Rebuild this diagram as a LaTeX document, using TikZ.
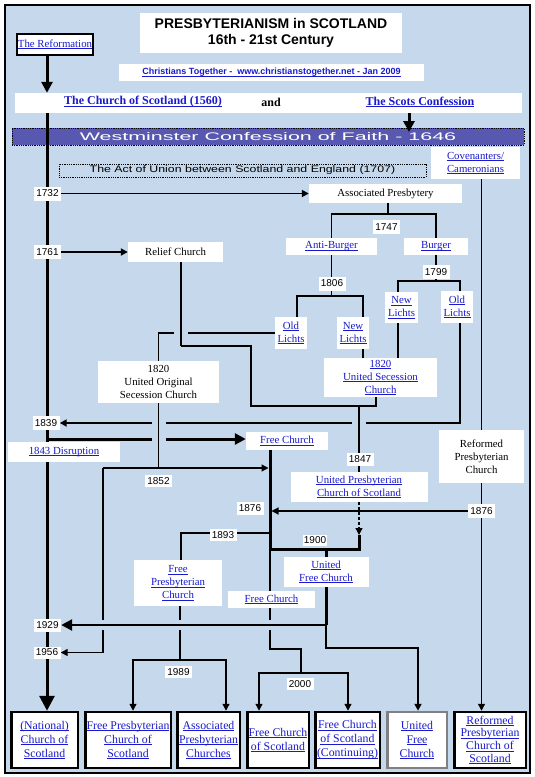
\documentclass[tikz,border=0pt]{standalone}
\usepackage{fontspec}
\setmainfont{Liberation Serif}
\setsansfont{Liberation Sans}
\usepackage{graphicx}
\usetikzlibrary{arrows.meta}

\definecolor{bgblue}{RGB}{198,217,236}
\definecolor{wcblue}{RGB}{88,88,176}
\definecolor{lkblue}{RGB}{25,25,205}

\newcommand{\lnk}[1]{{\color{lkblue}\setbox0\hbox{#1}\rlap{\rule[-1.6pt]{\wd0}{0.7pt}}\box0}}

\pgfdeclarelayer{back}
\pgfdeclarelayer{lines}
\pgfsetlayers{back,lines,main}

\tikzset{
  lbl/.style={fill=white, inner sep=0pt, align=center, font=\fontsize{10.8}{13}\selectfont},
  yr/.style={fill=white, inner sep=0pt, minimum width=27pt, minimum height=14pt, font=\sffamily\fontsize{10}{10}\selectfont},
  church/.style={fill=white, draw=black, line width=2.5pt, inner sep=0pt, align=center, minimum height=56pt, font=\fontsize{11.8}{14}\selectfont},
  ln/.style={line width=1.3pt},
  medln/.style={line width=1.8pt},
  thk/.style={line width=3pt},
  arr/.style={-{Triangle[length=7pt,width=7pt]}},
  arrm/.style={-{Triangle[length=11pt,width=11pt]}},
  arrl/.style={-{Triangle[length=15pt,width=15pt]}},
  crossgap/.style={preaction={draw=bgblue, line width=#1, -}},
  crossgap/.default=14pt,
}

\begin{document}
\begin{tikzpicture}[x=1pt,y=-1pt]
\useasboundingbox (0,0) rectangle (535,777);

\begin{pgfonlayer}{back}
\draw[line width=2.5pt, fill=bgblue] (5,5) rectangle (530,773);
\node[fill=white, minimum width=507pt, minimum height=20pt, inner sep=0pt] (band) at (268.5,103) {};
\node[fill=wcblue, draw, densely dotted, line width=0.8pt, minimum width=512pt, minimum height=17pt, inner sep=0pt,
  text=white, font=\sffamily\fontsize{11}{11}\selectfont] (wcf) at (268,136.5)
  {\scalebox{1.95}[1]{Westminster Confession of Faith - 1646}};
\end{pgfonlayer}

% heading
\node[lbl, minimum width=262pt, minimum height=40pt, font=\sffamily\bfseries\fontsize{14}{16}\selectfont] (title) at (271,33)
  {PRESBYTERIANISM in SCOTLAND\\16th - 21st Century};
\node[lbl, draw, line width=1.2pt, minimum width=76pt, minimum height=21pt] (ref) at (55,44.5) {\lnk{The Reformation}};
\node[lbl, minimum width=305pt, minimum height=17pt, font=\sffamily\bfseries\fontsize{9}{10}\selectfont] (sub) at (271.5,72.5)
  {\lnk{Christians Together -\ \ www.christianstogether.net - Jan 2009}};
\node[inner sep=0pt, font=\bfseries\fontsize{12}{14}\selectfont] (cos) at (143,102) {\lnk{The Church of Scotland (1560)}};
\node[inner sep=0pt, font=\bfseries\fontsize{12}{14}\selectfont] (and) at (271,102) {and};
\node[inner sep=0pt, font=\bfseries\fontsize{12}{14}\selectfont] (scots) at (420,102) {\lnk{The Scots Confession}};
\node[draw, densely dotted, line width=0.8pt, minimum width=367pt, minimum height=13pt, inner sep=0pt,
  font=\sffamily\fontsize{9.5}{10}\selectfont] (aou) at (242.5,170.5)
  {\scalebox{1.3}[1]{The Act of Union between Scotland and England (1707)}};
\node[lbl, minimum width=89pt, minimum height=32pt] (cov) at (475.5,163) {\lnk{Covenanters/}\\\lnk{Cameronians}};

% secessions
\node[yr] (y1732) at (47.5,193.5) {1732};
\node[lbl, minimum width=153pt, minimum height=19pt] (ap) at (385.5,193.5) {Associated Presbytery};
\node[yr] (y1747) at (386.5,227) {1747};
\node[lbl, minimum width=91pt, minimum height=17pt] (ab) at (331.5,246.5) {\lnk{Anti-Burger}};
\node[lbl, minimum width=64pt, minimum height=17pt] (bg) at (436,246.5) {\lnk{Burger}};
\node[yr] (y1761) at (47.5,252) {1761};
\node[lbl, minimum width=95pt, minimum height=20pt] (rc) at (175.5,252) {Relief Church};
\node[yr] (y1806) at (332,283.5) {1806};
\node[yr] (y1799) at (436,272) {1799};
\node[lbl, minimum width=32pt, minimum height=32pt] (ol1) at (291,333) {\lnk{Old}\\\lnk{Lichts}};
\node[lbl, minimum width=32pt, minimum height=32pt] (nl1) at (353,333) {\lnk{New}\\\lnk{Lichts}};
\node[lbl, minimum width=33pt, minimum height=31pt] (nl2) at (401.5,307.5) {\lnk{New}\\\lnk{Lichts}};
\node[lbl, minimum width=32pt, minimum height=32pt] (ol2) at (457,307) {\lnk{Old}\\\lnk{Lichts}};
\node[lbl, minimum width=121pt, minimum height=42pt] (uosc) at (158.5,382) {1820\\United Original\\Secession Church};
\node[lbl, minimum width=113pt, minimum height=39pt] (usc) at (380.5,377.5) {\lnk{1820}\\\lnk{United Secession}\\\lnk{Church}};

% disruption and unions
\node[yr] (y1839) at (46,423) {1839};
\node[lbl, minimum width=82pt, minimum height=18pt] (fc1) at (287,441) {\lnk{Free Church}};
\node[lbl, minimum width=112pt, minimum height=20pt] (dis) at (64,452) {\lnk{1843 Disruption}};
\node[lbl, minimum width=85pt, minimum height=53pt] (rpc) at (481.5,456.5) {Reformed\\Presbyterian\\Church};
\node[yr, minimum height=13pt] (y1847) at (360,459.5) {1847};
\node[lbl, minimum width=137pt, minimum height=30pt] (upc) at (359,487) {\lnk{United Presbyterian}\\\lnk{Church of Scotland}};
\node[yr, minimum height=12pt] (y1852) at (158.5,481) {1852};
\node[yr, minimum height=13pt] (y1876a) at (250,508.5) {1876};
\node[yr] (y1876b) at (481.5,511) {1876};
\node[yr, minimum height=12pt] (y1893) at (223,535) {1893};
\node[yr, minimum width=24pt, minimum height=11pt] (y1900) at (315,540) {1900};
\node[lbl, minimum width=88pt, minimum height=46pt] (fpc) at (178,583) {\lnk{Free}\\\lnk{Presbyterian}\\\lnk{Church}};
\node[lbl, minimum width=85pt, minimum height=30pt] (ufc) at (326,572) {\lnk{United}\\\lnk{Free Church}};
\node[lbl, minimum width=87pt, minimum height=17pt] (fc2) at (271.5,599.5) {\lnk{Free Church}};
\node[yr, minimum height=13pt] (y1929) at (47.5,625) {1929};
\node[yr, minimum height=12pt] (y1956) at (47,652.5) {1956};
\node[yr, minimum height=12pt] (y1989) at (178.5,672) {1989};
\node[yr, minimum height=12pt] (y2000) at (300,684) {2000};

% churches today
\node[church, minimum width=66.5pt] (b1) at (44.5,740) {\lnk{(National)}\\\lnk{Church of}\\\lnk{Scotland}};
\node[church, minimum width=85.5pt] (b2) at (128,740) {\lnk{Free Presbyterian}\\\lnk{Church of}\\\lnk{Scotland}};
\node[church, minimum width=62.5pt] (b3) at (208.5,740) {\lnk{Associated}\\\lnk{Presbyterian}\\\lnk{Churches}};
\node[church, minimum width=61.5pt] (b4) at (278,740) {\lnk{Free Church}\\\lnk{of Scotland}};
\node[church, minimum width=64.5pt] (b5) at (347.5,740) {\lnk{Free Church}\\\lnk{of Scotland}\\\lnk{(Continuing)}};
\node[church, minimum width=59.5pt, draw=gray] (b6) at (417,740) {\lnk{United}\\\lnk{Free}\\\lnk{Church}};
\node[church, minimum width=71.5pt, font=\fontsize{11.8}{12.8}\selectfont] (b7) at (490,740) {\lnk{Reformed}\\\lnk{Presbyterian}\\\lnk{Church of}\\\lnk{Scotland}};

% bends of the connectors
\coordinate (top) at (47,113);
\coordinate (sc) at (409,113);
\coordinate (sct) at (409,132);
\coordinate (k1747) at (388,214);
\coordinate (k1806) at (331.5,296);
\coordinate (xol1) at (297,0);
\coordinate (xnl1) at (363,0);
\coordinate (k1799) at (436,281);
\coordinate (xnl2) at (398,0);
\coordinate (xol2) at (460,0);
\coordinate (rc1) at (181,346);
\coordinate (rc2) at (251,406);
\coordinate (xus) at (376,0);
\coordinate (k1847) at (359,406);
\coordinate (k1843) at (47,439);
\coordinate (k1852) at (158.5,468);
\coordinate (k1852l) at (103,468);
\coordinate (f1900) at (270,549);
\coordinate (d1900) at (359,535);
\coordinate (k1893) at (181,533);
\coordinate (u1929) at (326,625);
\coordinate (k6) at (418,648);
\coordinate (k1989) at (180,660);
\coordinate (x1989a) at (133,0);
\coordinate (x1989b) at (226,0);
\coordinate (k2000t) at (301,649);
\coordinate (k2000) at (301,673);
\coordinate (x2000a) at (259,0);
\coordinate (x2000b) at (348,0);

\begin{pgfonlayer}{lines}
\draw[thk, arrm] (ref.south -| top) -- (band.north -| top);
\draw[thk, arrl] (top) -- (top |- b1.north);
\draw[thk, arrm] (sc) -- (sct);

\draw[medln, arr] (y1732) -- (ap);
\draw[medln, arr] (y1761) -- (rc);
\draw[ln] (ap.south -| k1747) -- (k1747);
\draw[ln] (ab.north) |- (k1747) -| (bg.north);
\draw[ln] (ab.south) -- (k1806);
\draw[ln] (xol1 |- ol1.north) |- (k1806) -| (xnl1 |- nl1.north);
\draw[ln] (xnl1 |- nl1.south) -- (xnl1 |- usc.north);
\draw[ln] (bg.south) -- (k1799);
\draw[ln] (xnl2 |- nl2.north) |- (k1799) -| (xol2 |- ol2.north);
\draw[ln] (xnl2 |- nl2.south) -- (xnl2 |- usc.north);
\draw[ln] (ol1.west) -| (uosc.north);

\draw[medln, arr] (xol2 |- ol2.south) |- (y1839);
\draw[thk, arrm] (k1843) -- (k1843 -| fc1.west);

% crossings
\draw[ln, crossgap] (rc1 |- rc.south) -- (rc1);
\draw[ln, crossgap] (uosc.south) -- (k1852);
\draw[ln, crossgap] (k1847) -- (upc.north);
\draw[ln] (rc1) -| (rc2) -| (xus |- usc.south);

\draw[ln, dash pattern=on 3pt off 2pt, arr] (upc.south) -- (d1900);
\draw[thk] (f1900 |- fc1.south) -- (f1900) -| (d1900);
\draw[ln, arr, shorten >=1.5pt] (k1852l) -- (k1852l -| f1900);
\draw[ln, arr] (k1852l) |- (y1956);
\draw[ln, arr, shorten >=1.5pt] (y1876b) -- (y1876b -| f1900);
\draw[ln] (cov.south -| rpc.north) -- (rpc.north);
\draw[ln, arr] (rpc.south) -- (rpc.south |- b7.north);
\draw[ln] (k1893 -| f1900) -- (k1893) -- (k1893 |- fpc.north);

\draw[ln] (f1900) -- (f1900 |- fc2.north);
\draw[thk] (ufc.north) -- (ufc.north |- f1900);
\draw[ln] (k1989 |- fpc.south) -- (k1989);
\draw[ln, arr] (k1989) -| (x1989a |- b2.north);
\draw[ln, arr] (k1989) -| (x1989b |- b3.north);
\draw[ln] (f1900 |- fc2.south) |- (k2000t) -- (k2000);
\draw[ln, arr] (k2000) -| (x2000a |- b4.north);
\draw[ln, arr] (k2000) -| (x2000b |- b5.north);

\draw[line width=2.5pt, arrm, crossgap=10pt] (u1929) -- (y1929);
\draw[thk] (ufc.south) -- (u1929);
\draw[medln, arr] (u1929) |- (k6) -- (k6 |- b6.north);
\end{pgfonlayer}
\end{tikzpicture}
\end{document}
